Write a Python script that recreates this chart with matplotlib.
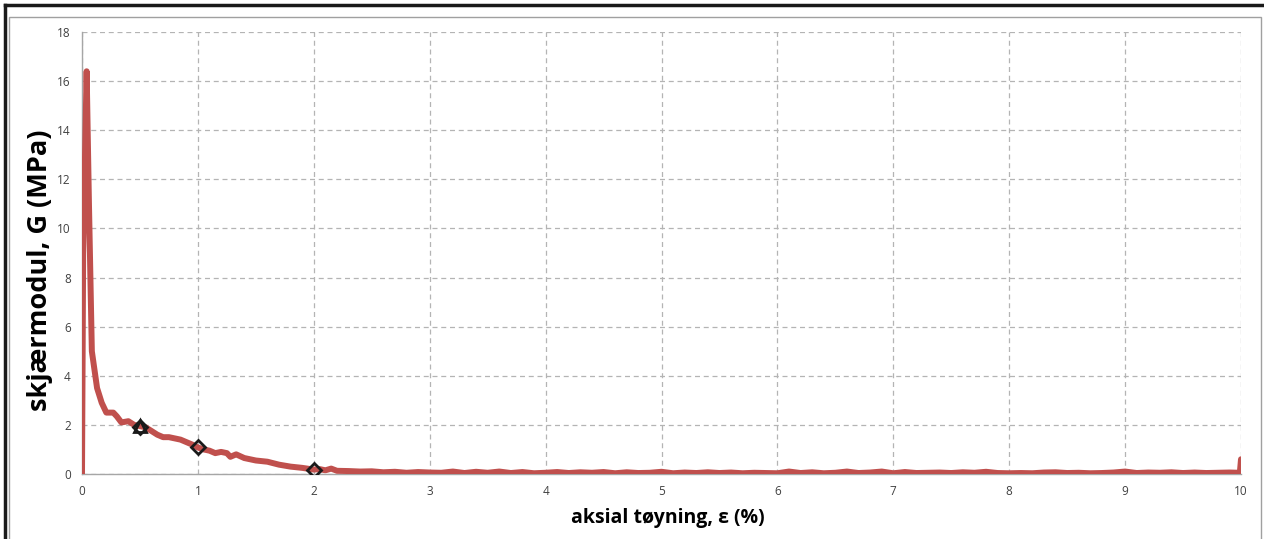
import matplotlib.pyplot as plt
from matplotlib.patches import Rectangle
from matplotlib.lines import Line2D

# skjærmodul vs aksial tøyning
strain_head = [0.0, 0.01, 0.04, 0.06, 0.085, 0.13, 0.17, 0.21, 0.27, 0.30, 0.34, 0.40,
               0.45, 0.50, 0.55, 0.60, 0.65, 0.70, 0.75, 0.80, 0.85, 0.90, 0.95, 1.00,
               1.05, 1.10, 1.15, 1.20, 1.25, 1.28, 1.33, 1.40, 1.50, 1.60, 1.70, 1.80,
               1.90, 2.00, 2.05, 2.10, 2.15, 2.20]
G_head = [0.0, 9.0, 16.4, 11.0, 5.0, 3.5, 2.9, 2.5, 2.5, 2.35, 2.1, 2.15,
          2.0, 1.95, 1.9, 1.75, 1.6, 1.5, 1.5, 1.45, 1.4, 1.3, 1.2, 1.08,
          1.0, 0.95, 0.85, 0.9, 0.85, 0.7, 0.8, 0.65, 0.55, 0.5, 0.38, 0.3,
          0.25, 0.18, 0.2, 0.15, 0.22, 0.13]

strain_tail = [2.3, 2.4, 2.5, 2.6, 2.7, 2.8, 2.9, 3.0, 3.1, 3.2, 3.3, 3.4, 3.5, 3.6,
               3.7, 3.8, 3.9, 4.0, 4.1, 4.2, 4.3, 4.4, 4.5, 4.6, 4.7, 4.8, 4.9, 5.0,
               5.1, 5.2, 5.3, 5.4, 5.5, 5.6, 5.7, 5.8, 5.9, 6.0, 6.1, 6.2, 6.3, 6.4,
               6.5, 6.6, 6.7, 6.8, 6.9, 7.0, 7.1, 7.2, 7.3, 7.4, 7.5, 7.6, 7.7, 7.8,
               7.9, 8.0, 8.1, 8.2, 8.3, 8.4, 8.5, 8.6, 8.7, 8.8, 8.9, 9.0, 9.1, 9.2,
               9.3, 9.4, 9.5, 9.6, 9.7, 9.8, 9.9, 9.99, 10.0]
G_tail = [0.12, 0.1, 0.11, 0.07, 0.09, 0.05, 0.08, 0.06, 0.05, 0.1, 0.04, 0.09, 0.05, 0.1,
          0.04, 0.08, 0.03, 0.05, 0.08, 0.04, 0.07, 0.05, 0.08, 0.03, 0.07, 0.04, 0.05, 0.09,
          0.03, 0.06, 0.04, 0.07, 0.04, 0.06, 0.03, 0.05, 0.04, 0.03, 0.1, 0.04, 0.07, 0.03,
          0.05, 0.1, 0.04, 0.06, 0.1, 0.03, 0.08, 0.04, 0.05, 0.06, 0.04, 0.07, 0.05, 0.09,
          0.04, 0.03, 0.04, 0.03, 0.06, 0.07, 0.04, 0.05, 0.03, 0.04, 0.06, 0.1, 0.04, 0.06,
          0.05, 0.07, 0.04, 0.06, 0.04, 0.05, 0.06, 0.05, 0.6]

strain = strain_head + strain_tail
G = G_head + G_tail

tri_x, tri_y = [0.5], [1.95]
dia_x, dia_y = [0.5, 1.0, 2.0], [1.9, 1.08, 0.18]

red = "#C0504D"
grid_col = "#B4B4B4"
plt.rcParams["font.family"] = ["Open Sans", "DejaVu Sans"]

fig = plt.figure(figsize=(12.64, 5.39), dpi=100)
ax = fig.add_axes([82 / 1264, 1 - 474 / 539, (1241 - 82) / 1264, (474 - 32) / 539])

ax.plot(strain, G, color=red, lw=4.3, solid_joinstyle="round", solid_capstyle="round", zorder=3)
ax.plot(dia_x, dia_y, ls="none", marker="D", ms=7, mfc="none", mec="#1A1A1A", mew=2.0, zorder=4)
ax.plot(tri_x, tri_y, ls="none", marker="^", ms=9, mfc="none", mec="#1A1A1A", mew=2.0, zorder=5)

ax.set_xlim(0, 10)
ax.set_ylim(0, 18)
ax.set_xticks(range(0, 11))
ax.set_yticks(range(0, 19, 2))
ax.grid(True, color=grid_col, ls=(0, (4, 3)), lw=0.9)
ax.set_axisbelow(True)
for s in ["top", "right"]:
    ax.spines[s].set_visible(False)
for s in ["left", "bottom"]:
    ax.spines[s].set_color("#A6A6A6")
    ax.spines[s].set_linewidth(1.0)
ax.tick_params(length=0, labelsize=8.5, colors="#404040", pad=8)

ax.set_xlabel("aksial tøyning, ε (%)", fontsize=14, fontweight="bold")
ax.set_ylabel("skjærmodul, G (MPa)", fontsize=19.5, fontweight="bold", va="center")
ax.xaxis.set_label_coords(0.5056, -0.078)
ax.yaxis.set_label_coords(-0.036, 0.46)

# frames around the chart
fig.patches.append(Rectangle((9 / 1264, -0.1), (1261 - 9) / 1264, 1.1 - 17 / 539,
                             transform=fig.transFigure, fill=False, ec="#A0A0A0", lw=1.0))
fig.lines.append(Line2D([4.5 / 1264, 4.5 / 1264], [0, 1 - 4.5 / 539], transform=fig.transFigure,
                        color="#1A1A1A", lw=2.5))
fig.lines.append(Line2D([4.5 / 1264, 1], [1 - 4.5 / 539, 1 - 4.5 / 539], transform=fig.transFigure,
                        color="#1A1A1A", lw=2.5))

fig.savefig("out.png", dpi=100)
